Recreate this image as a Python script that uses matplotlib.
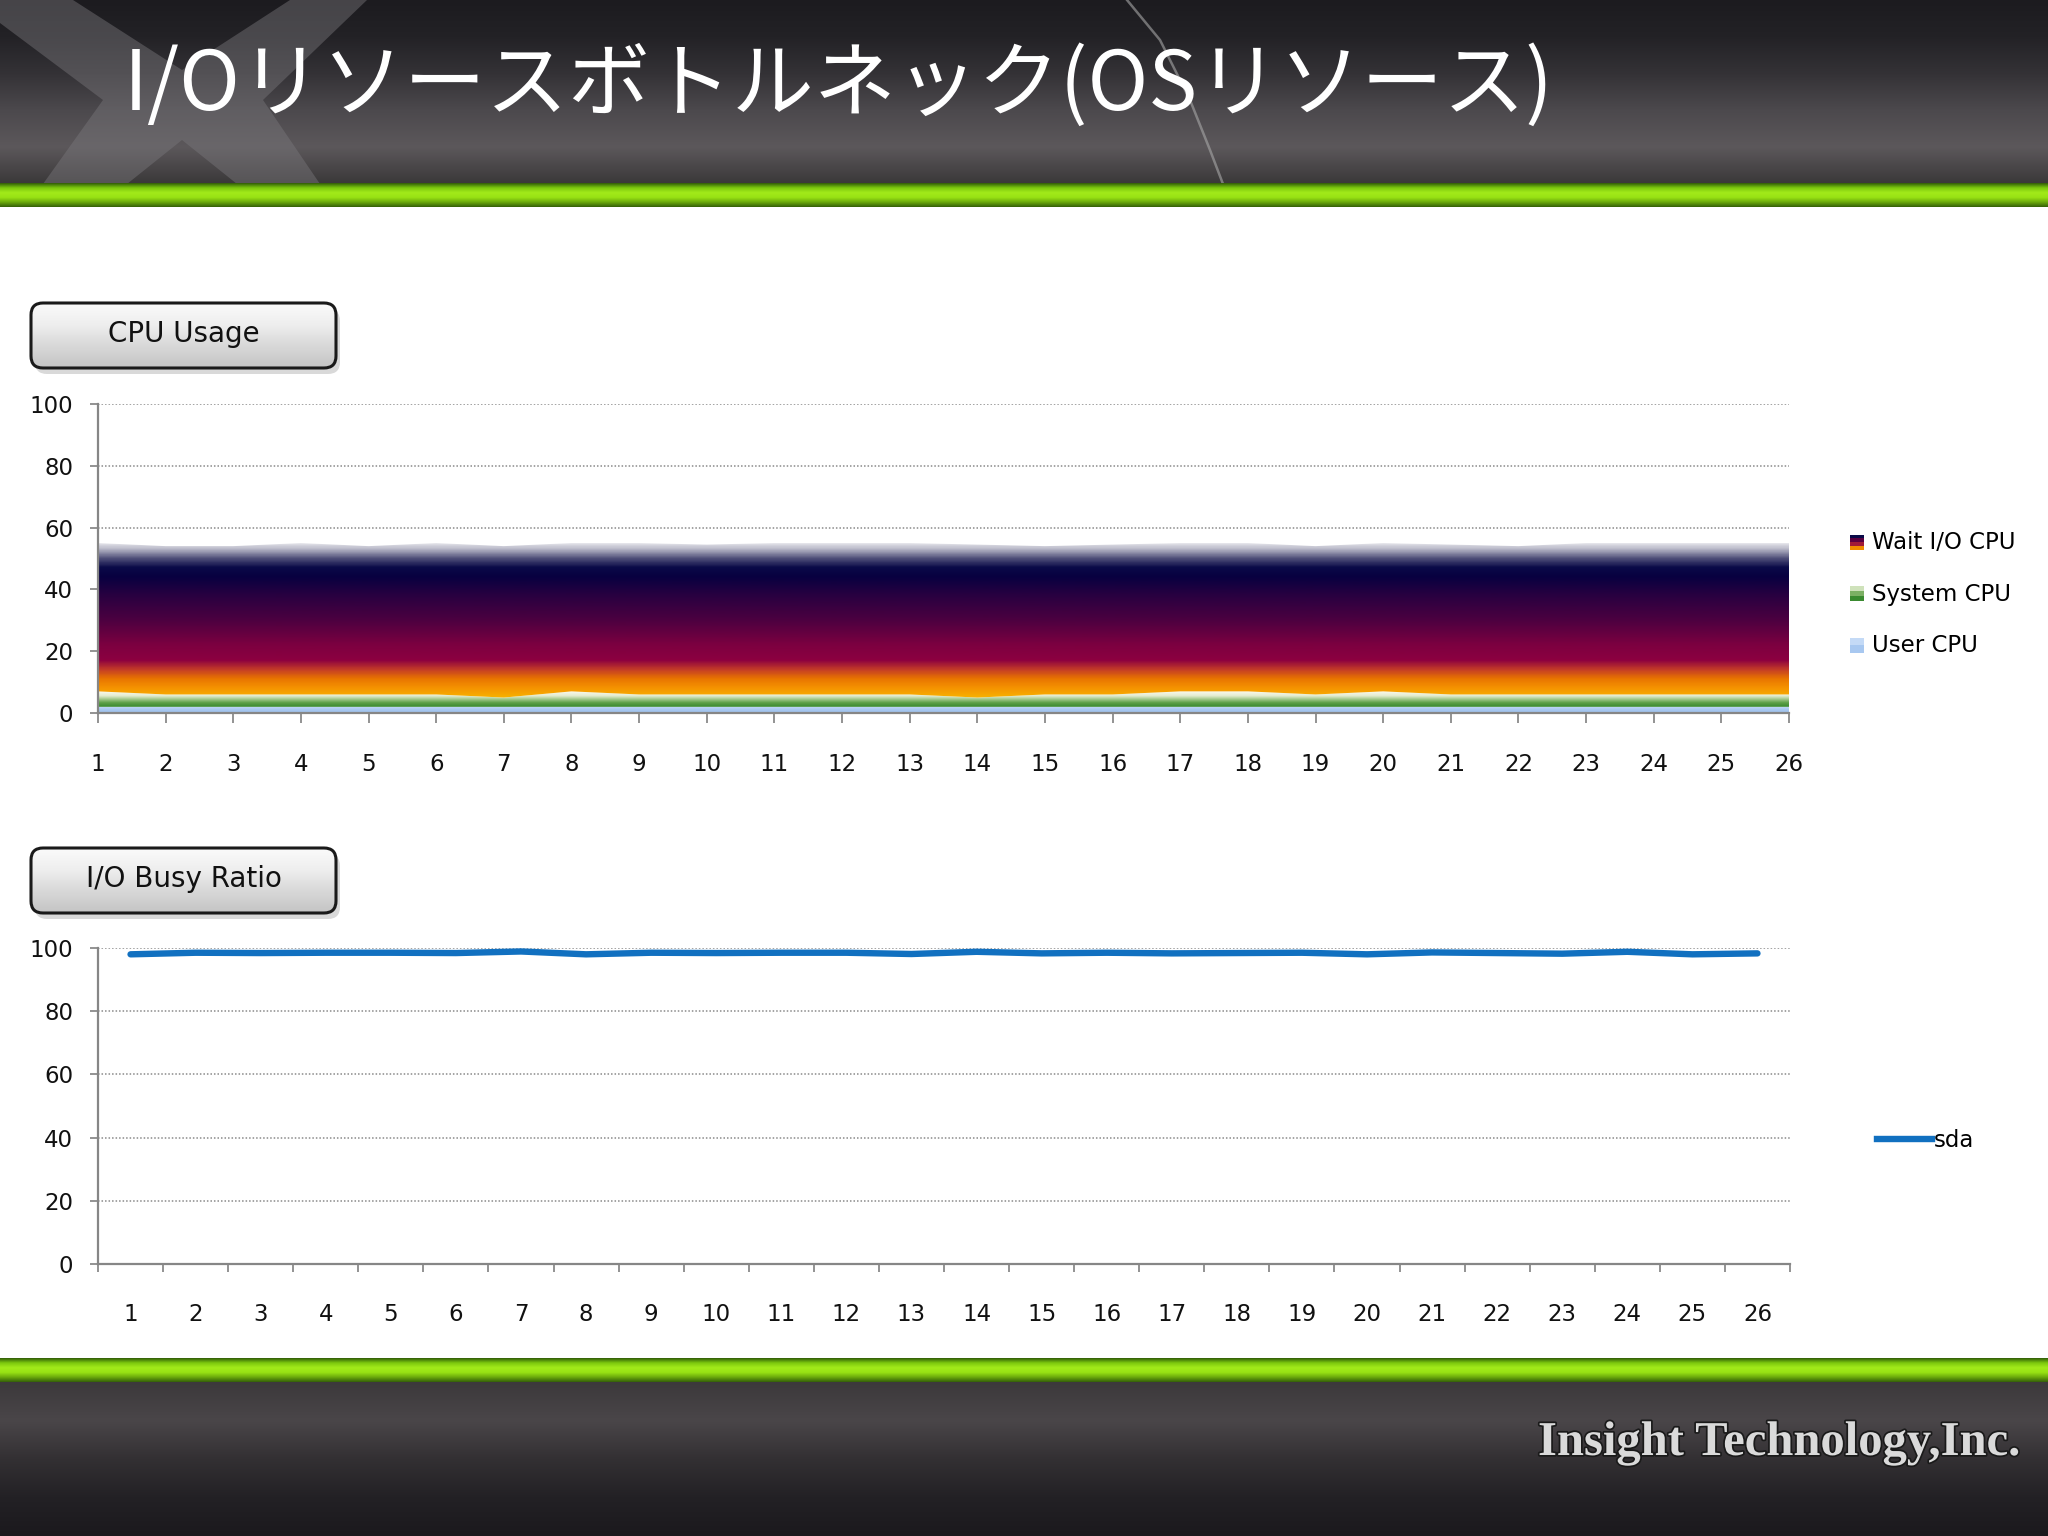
import numpy as np
import matplotlib
matplotlib.use('Agg')
import matplotlib.pyplot as plt
from matplotlib.colors import LinearSegmentedColormap
from matplotlib.patches import FancyBboxPatch, Rectangle, Patch, Polygon
from matplotlib.lines import Line2D
from matplotlib.legend_handler import HandlerBase
import matplotlib.patheffects as pe

# data
samples = list(range(1, 27))
user_cpu = [2, 2, 2, 2, 2, 2, 2, 2, 2, 2, 2, 2, 2,
            2, 2, 2, 2, 2, 2, 2, 2, 2, 2, 2, 2, 2]
system_cpu = [5, 4, 4, 4, 4, 4, 3, 5, 4, 4, 4, 4, 4,
              3, 4, 4, 5, 5, 4, 5, 4, 4, 4, 4, 4, 4]
wait_cpu = [48, 48, 48, 49, 48, 49, 49, 48, 49, 48.5, 49, 49, 49,
            49.5, 48, 48.5, 48, 48, 48, 48, 48.5, 48, 49, 49, 49, 49]
sda_busy = [98.0, 98.5, 98.4, 98.5, 98.5, 98.4, 98.9, 98.0, 98.5, 98.4, 98.5, 98.5, 98.1,
            98.8, 98.3, 98.5, 98.3, 98.4, 98.5, 98.0, 98.6, 98.4, 98.2, 98.8, 98.0, 98.3]
cpu_labels = ['Wait I/O CPU', 'System CPU', 'User CPU']
y_ticks = [0, 20, 40, 60, 80, 100]

TITLE = 'I/Oリソースボトルネック(OSリソース)'
W, H = 2048, 1536


def stops_cmap(stops, lo, hi):
    return LinearSegmentedColormap.from_list(
        'g', [((v - lo) / (hi - lo), c) for v, c in stops])


def bg_band(ax, y0, y1, colors, x0=0, x1=W, zorder=1):
    # vertical gradient, colors listed top -> bottom
    cmap = LinearSegmentedColormap.from_list('b', colors)
    arr = np.linspace(0, 1, 256).reshape(-1, 1)
    return ax.imshow(arr, extent=(x0, x1, y1, y0), origin='upper', cmap=cmap,
                     aspect='auto', interpolation='bilinear', zorder=zorder)


class GradHandler(HandlerBase):
    def __init__(self, colors):
        super().__init__()
        self.colors = colors

    def create_artists(self, legend, orig, xd, yd, w, h, fontsize, trans):
        n = len(self.colors)
        arts = []
        for i, c in enumerate(self.colors):
            arts.append(Rectangle((xd, yd + h * (n - 1 - i) / n), w, h / n + 0.3,
                                  facecolor=c, edgecolor='none', transform=trans))
        return arts


fig = plt.figure(figsize=(20.48, 15.36), dpi=100)

# slide background drawn in pixel coordinates
bg = fig.add_axes([0, 0, 1, 1])
bg.set_xlim(0, W)
bg.set_ylim(H, 0)
bg.axis('off')

bg_band(bg, 0, 184, ['#1c1b1f', '#232226', '#343236', '#4c494d', '#5c585b', '#3a3839'])
# the faint X in the header
x_shape = [(73, 0), (182, 70), (290, 0), (367, 0), (263, 100), (320, 184),
           (237, 184), (182, 140), (127, 184), (43, 184), (103, 100), (0, 23), (0, 0)]
bg.add_patch(Polygon(x_shape, closed=True, facecolor='#7a787c', edgecolor='none',
                     alpha=0.45, zorder=2))
bg.plot([1127, 1160, 1190, 1210, 1223], [0, 40, 100, 150, 184], color='#a8a8a8',
        lw=1.8, alpha=0.6, zorder=2)
bg_band(bg, 183, 207, ['#2f5a08', '#7cc80e', '#a2ea1a', '#98e214', '#6aa80c', '#345f08'],
        zorder=3)
bg_band(bg, 1358, 1382, ['#2f5a08', '#7cc80e', '#a2ea1a', '#98e214', '#6aa80c', '#345f08'],
        zorder=3)
bg_band(bg, 1382, H, ['#3c393b', '#4a4649', '#333033', '#232125', '#1b191d'], zorder=3)

bg.text(124, 86, TITLE, color='white', fontsize=59, va='center', ha='left',
        family=['Noto Sans CJK JP', 'DejaVu Sans'], zorder=5)

bg.text(1538, 1443, 'Insight Technology,Inc.', color='#dadada', fontsize=35,
        fontweight='bold', family=['Liberation Serif', 'DejaVu Serif'], va='center',
        ha='left', zorder=5,
        path_effects=[pe.withStroke(linewidth=2.5, foreground='#1a1a1a')])

# section title boxes
for label, y0 in [('CPU Usage', 303), ('I/O Busy Ratio', 848)]:
    shadow = FancyBboxPatch((35, y0 + 6), 305, 65, boxstyle='round,pad=0,rounding_size=12',
                            facecolor='black', edgecolor='none', alpha=0.15, zorder=3)
    bg.add_patch(shadow)
    box = FancyBboxPatch((31, y0), 305, 65, boxstyle='round,pad=0,rounding_size=12',
                         facecolor='none', edgecolor='#1a1a1a', lw=2.2, zorder=5)
    bg.add_patch(box)
    im = bg_band(bg, y0, y0 + 65, ['#fbfbfb', '#eeeeee', '#d8d8d8', '#c4c4c4'],
                 x0=31, x1=336, zorder=4)
    im.set_clip_path(box)
    bg.text(184, y0 + 31, label, fontsize=20, ha='center', va='center',
            color='#111111', zorder=6)

# CPU usage stacked area
x = np.array(samples)
user = np.array(user_cpu)
system_top = user + np.array(system_cpu)
total = system_top + np.array(wait_cpu)

ax1 = fig.add_axes([98 / W, 1 - 713 / H, (1789 - 98) / W, (713 - 404) / H])
ax1.set_facecolor('none')

wait_stops = [(0, '#f7b400'), (5, '#f7b000'), (8, '#f59200'), (11, '#e87400'),
              (14, '#c23a28'), (17, '#8c0040'), (22, '#7c0040'), (30, '#4c0040'),
              (38, '#280040'), (44, '#080040'), (47, '#0a0a48'), (50, '#50507a'),
              (53, '#b8b8c8'), (56, '#ffffff')]
sys_stops = [(0, '#3a8a30'), (2, '#3a8a30'), (3.3, '#5ea048'), (4.5, '#a8cc90'),
             (5.5, '#e4ecd0'), (7, '#fafaee')]
user_stops = [(0, '#9cc0ec'), (1, '#a8c8f0'), (2, '#c4daf6')]

layers = [(np.zeros_like(user), user, user_stops, 2),
          (user, system_top, sys_stops, 7),
          (system_top, total, wait_stops, 56)]
for lo, hi, stops, top in layers:
    poly = ax1.fill_between(x, lo, hi, facecolor='none', edgecolor='none')
    grad = np.linspace(0, top, 300).reshape(-1, 1)
    im = ax1.imshow(grad, extent=(1, 26, 0, top), origin='lower', aspect='auto',
                    cmap=stops_cmap(stops, 0, top), vmin=0, vmax=top,
                    interpolation='bilinear', zorder=2)
    im.set_clip_path(poly.get_paths()[0], transform=ax1.transData)

ax1.set_xlim(1, 26)
ax1.set_ylim(0, 100)
ax1.set_xticks(samples)
ax1.set_yticks(y_ticks)

wait_h = Patch(label=cpu_labels[0])
sys_h = Patch(label=cpu_labels[1])
user_h = Patch(label=cpu_labels[2])
ax1.legend(handles=[wait_h, sys_h, user_h],
           handler_map={wait_h: GradHandler(['#0a0a48', '#5a0040', '#a01a38', '#f08c00']),
                        sys_h: GradHandler(['#cfe2bb', '#7cb064', '#3a8a30']),
                        user_h: GradHandler(['#c4daf6', '#a8c8f0'])},
           loc='center left', bbox_to_anchor=(1.024, 0.385), frameon=False,
           fontsize=16.5, handlelength=0.6, handleheight=0.6, handletextpad=0.35,
           labelspacing=1.25)

# I/O busy ratio line
ax2 = fig.add_axes([98 / W, 1 - 1264 / H, (1790 - 98) / W, (1264 - 948) / H])
ax2.set_facecolor('none')
ax2.plot(samples, sda_busy, color='#1170c0', lw=4.6, solid_capstyle='round',
         label='sda', zorder=3)
ax2.set_xlim(0.5, 26.5)
ax2.set_ylim(0, 100)
ax2.set_xticks(samples)
ax2.set_xticks(np.arange(0.5, 27, 1), minor=True)
ax2.set_yticks(y_ticks)
ax2.tick_params(axis='x', which='major', length=0)
ax2.tick_params(axis='x', which='minor', direction='out', length=6, width=1.2,
                color='#808080')
ax2.legend(handles=[Line2D([], [], color='#1170c0', lw=4.6, label='sda')],
           loc='center left', bbox_to_anchor=(1.039, 0.39), frameon=False,
           fontsize=16.5, handlelength=2.4, handletextpad=0.1)

for ax in (ax1, ax2):
    ax.set_axisbelow(True)
    ax.yaxis.grid(True, color='#8a8a8a', linestyle=(0, (1, 1.3)), lw=1.1)
    for side in ('top', 'right'):
        ax.spines[side].set_visible(False)
    for side in ('left', 'bottom'):
        ax.spines[side].set_color('#868686')
        ax.spines[side].set_linewidth(1.6)
    ax.tick_params(axis='y', direction='out', length=6, width=1.2, color='#808080',
                   labelsize=16.5, pad=12, labelcolor='#111111')
    ax.tick_params(axis='x', labelsize=16.5, labelcolor='#111111')
ax1.tick_params(axis='x', direction='out', length=7, width=1.2, color='#808080', pad=22)
ax2.tick_params(axis='x', which='major', pad=28)

fig.savefig('out.png', dpi=100)
